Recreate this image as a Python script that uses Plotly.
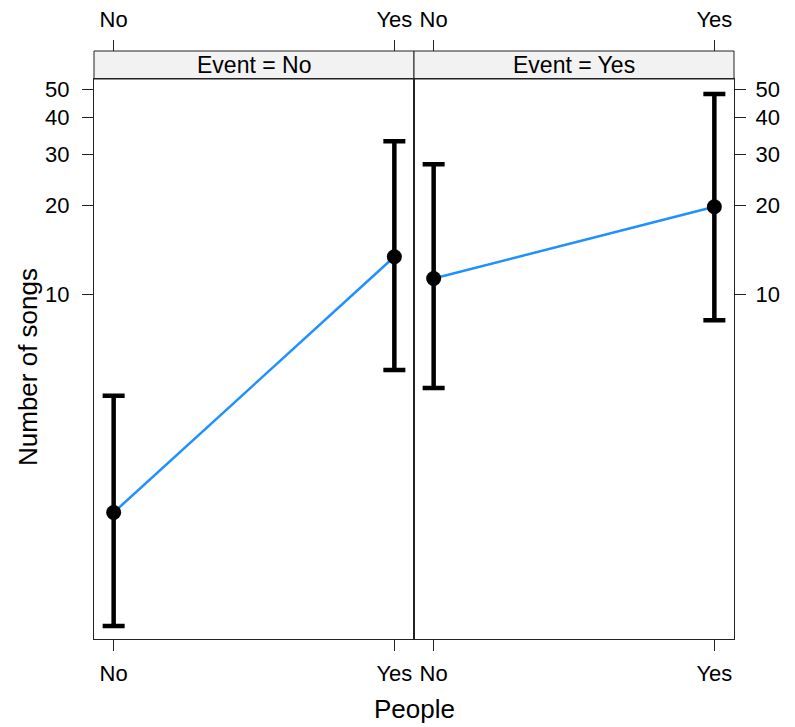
import math
import plotly.graph_objects as go
from plotly.subplots import make_subplots

# ---- data ----
people = ["No", "Yes"]
events = ["No", "Yes"]
fit_event_no = [1.80, 13.4]
lower_event_no = [0.738, 5.51]
upper_event_no = [4.50, 33.2]
fit_event_yes = [11.3, 19.85]
lower_event_yes = [4.78, 8.15]
upper_event_yes = [27.7, 48.1]
y_ticks = [10, 20, 30, 40, 50]

FONT = "Liberation Sans, Arial, Helvetica, sans-serif"
LINE_BLUE = "#1E90FF"
AX = "#222222"

# page body has an 8px margin; shrink figure and margins to compensate
OFF = 8
W, H = 795 - OFF, 727 - OFF
ML, MR, MT, MB = 94 - OFF, 61, 51 - OFF, 88
STRIP_H = 28
plot_h = H - MT - MB
ytop = (plot_h - STRIP_H) / plot_h

fig = make_subplots(rows=1, cols=2, shared_yaxes=False, horizontal_spacing=0)

panels = [
    (fit_event_no, lower_event_no, upper_event_no),
    (fit_event_yes, lower_event_yes, upper_event_yes),
]
for i, (fit, lo, up) in enumerate(panels):
    fig.add_trace(
        go.Scatter(
            x=people, y=fit, mode="lines+markers",
            line=dict(color=LINE_BLUE, width=2.5),
            marker=dict(color="black", size=15),
            error_y=dict(type="data", symmetric=False,
                         array=[u - f for u, f in zip(up, fit)],
                         arrayminus=[f - l for f, l in zip(fit, lo)],
                         color="black", thickness=4.5, width=11),
            showlegend=False, hoverinfo="skip",
        ),
        row=1, col=i + 1,
    )

xrange = [-0.07, 1.07]
yrange = [math.log10(0.667), math.log10(54.1)]
tickfont = dict(family=FONT, size=22, color="black")

for i in range(2):
    xa = "xaxis" if i == 0 else "xaxis2"
    ya = "yaxis" if i == 0 else "yaxis2"
    fig.layout[xa].update(
        type="category", categoryorder="array", categoryarray=people,
        range=xrange, showline=True, linecolor=AX, linewidth=1, mirror=True,
        ticks="outside", ticklen=11, tickcolor=AX, tickfont=tickfont,
        ticklabelstandoff=4,
        showgrid=False, zeroline=False, domain=[0, 0.5] if i == 0 else [0.5, 1],
    )
    fig.layout[ya].update(
        type="log", range=yrange, tickvals=y_ticks, ticktext=[str(t) for t in y_ticks],
        showline=True, linecolor=AX, linewidth=1, mirror=True,
        ticks="outside", ticklen=11, tickcolor=AX, tickfont=tickfont,
        ticklabelstandoff=8 if i == 0 else 5,
        showgrid=False, zeroline=False, domain=[0, ytop],
        side="left" if i == 0 else "right",
    )
fig.layout.yaxis2.matches = "y"

# top axes above the strips
top_common = dict(anchor="free", position=1.0, side="top",
                  type="category", categoryorder="array", categoryarray=people,
                  range=xrange, ticks="outside", ticklen=11, tickcolor=AX,
                  tickfont=tickfont, ticklabelstandoff=4,
                  showgrid=False, zeroline=False, showline=False)
fig.update_layout(
    xaxis3=dict(overlaying="x", **top_common),
    xaxis4=dict(overlaying="x2", **top_common),
)
fig.add_trace(go.Scatter(x=people, y=[None, None], xaxis="x3", yaxis="y",
                         showlegend=False, hoverinfo="skip"))
fig.add_trace(go.Scatter(x=people, y=[None, None], xaxis="x4", yaxis="y2",
                         showlegend=False, hoverinfo="skip"))

# strips
for i, ev in enumerate(events):
    xref = "x domain" if i == 0 else "x2 domain"
    fig.add_shape(type="rect", xref=xref, yref="paper", x0=0, x1=1, y0=ytop, y1=1,
                  fillcolor="#f2f2f2", line=dict(color=AX, width=1), layer="below")
    fig.add_annotation(xref=xref, yref="paper", x=0.5, y=(ytop + 1) / 2,
                       text=f"Event = {ev}", showarrow=False,
                       font=dict(family=FONT, size=23, color="black"),
                       xanchor="center", yanchor="middle")

# axis titles
fig.add_annotation(xref="paper", yref="paper", x=0.5, y=0, yshift=-70,
                   text="People", showarrow=False,
                   font=dict(family=FONT, size=26, color="black"),
                   xanchor="center", yanchor="middle")
fig.add_annotation(xref="paper", yref="paper", x=0, y=0, xshift=-66, yshift=272,
                   text="Number of songs", showarrow=False, textangle=-90,
                   font=dict(family=FONT, size=26, color="black"),
                   xanchor="center", yanchor="middle")

fig.update_layout(
    width=W, height=H,
    margin=dict(l=ML, r=MR, t=MT, b=MB, autoexpand=False),
    paper_bgcolor="white", plot_bgcolor="white",
    font=dict(family=FONT, color="black"),
)

fig.write_html("out.html")
